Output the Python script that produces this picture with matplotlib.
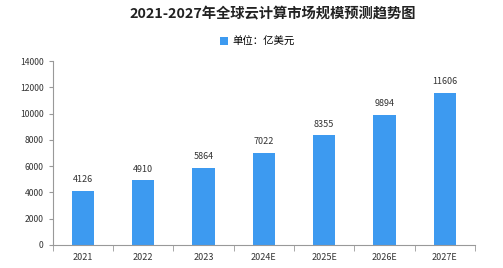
import matplotlib
matplotlib.use('Agg')
import matplotlib.pyplot as plt
import numpy as np

plt.rcParams['font.family'] = ['Noto Sans CJK SC', 'DejaVu Sans']

years = ['2021', '2022', '2023', '2024E', '2025E', '2026E', '2027E']
values = [4126, 4910, 5864, 7022, 8355, 9894, 11606]
bar_color = '#3d9af0'

fig = plt.figure(figsize=(5.03, 2.68), dpi=100)
ax = fig.add_axes([0.105, 0.086, 0.839, 0.686])

x = np.arange(len(years))
bars = ax.bar(x, values, width=0.37, color=bar_color, label='单位：亿美元')
for xi, v in zip(x, values):
    ax.text(xi, v + 500, str(v), ha='center', va='bottom', fontsize=6.5, color='#333333')

ax.set_xlim(-0.5, len(years) - 0.5)
ax.set_ylim(0, 14000)
ax.set_yticks(range(0, 14001, 2000))
ax.set_xticks(x)
ax.set_xticklabels(years)
ax.set_xticks(np.arange(-0.5, len(years), 1), minor=True)
ax.tick_params(axis='x', which='major', length=0, pad=6, labelsize=6.5, colors='#333333')
ax.tick_params(axis='x', which='minor', length=4, color='#999999', direction='out')
ax.tick_params(axis='y', length=3, color='#999999', labelsize=6.2, labelcolor='#333333')

for s in ['top', 'right']:
    ax.spines[s].set_visible(False)
for s in ['left', 'bottom']:
    ax.spines[s].set_color('#999999')
    ax.spines[s].set_linewidth(0.8)

fig.text(0.543, 0.948, '2021-2027年全球云计算市场规模预测趋势图', ha='center', va='center',
         fontsize=10.3, fontweight='bold', color='#222222')
fig.legend(handles=[bars], loc='center', bbox_to_anchor=(0.512, 0.843), frameon=False,
           fontsize=7.5, handlelength=0.8, handleheight=0.8, handletextpad=0.4)

fig.savefig('out.png', dpi=100)
